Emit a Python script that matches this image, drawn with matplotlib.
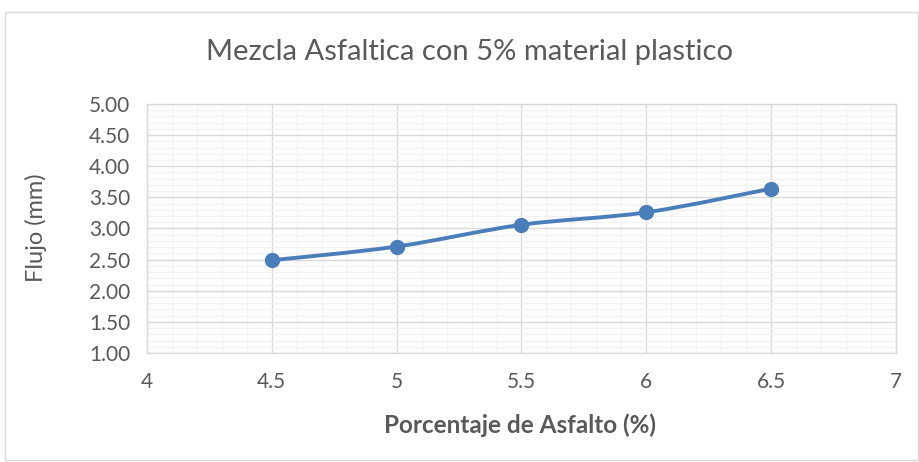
import matplotlib
matplotlib.use("Agg")
import matplotlib.pyplot as plt
from matplotlib.path import Path
from matplotlib.patches import PathPatch, Rectangle
from matplotlib.ticker import MultipleLocator
import numpy as np

# Data
asphalt_pct = [4.5, 5.0, 5.5, 6.0, 6.5]
flow_mm = [2.49, 2.71, 3.06, 3.26, 3.64]
x_ticks = [4, 4.5, 5, 5.5, 6, 6.5, 7]
x_tick_labels = ["4", "4.5", "5", "5.5", "6", "6.5", "7"]
y_ticks = [1.0, 1.5, 2.0, 2.5, 3.0, 3.5, 4.0, 4.5, 5.0]
y_tick_labels = [f"{v:.2f}" for v in y_ticks]

title = "Mezcla Asfaltica con 5% material plastico"
x_label = "Porcentaje de Asfalto (%)"
y_label = "Flujo (mm)"

LINE = "#4a7ebb"
TEXT = "#595959"
FONT = ["Lato", "DejaVu Sans"]

fig = plt.figure(figsize=(9.19, 4.62), dpi=100)
fig.patches.append(Rectangle((5 / 919, 2 / 462), 913 / 919, 448 / 462,
                             transform=fig.transFigure, fill=False,
                             edgecolor="#d9d9d9", linewidth=1.0))

ax = fig.add_axes([147 / 919, 109 / 462, 749 / 919, 249 / 462])
ax.set_xlim(4, 7)
ax.set_ylim(1, 5)

ax.set_xticks(x_ticks)
ax.set_xticklabels(x_tick_labels)
ax.set_yticks(y_ticks)
ax.set_yticklabels(y_tick_labels)
ax.xaxis.set_minor_locator(MultipleLocator(0.1))
ax.yaxis.set_minor_locator(MultipleLocator(0.1))

ax.grid(which="major", color="#d9d9d9", linewidth=1.0)
ax.grid(which="minor", color="#f2f2f2", linewidth=1.0)
ax.set_axisbelow(True)
ax.tick_params(which="both", length=0)
ax.tick_params(axis="x", pad=14, labelsize=15, labelcolor=TEXT)
ax.tick_params(axis="y", pad=12, labelsize=15, labelcolor=TEXT)
for lab in ax.get_xticklabels() + ax.get_yticklabels():
    lab.set_family(FONT)
for s in ax.spines.values():
    s.set_color("#d9d9d9")
    s.set_linewidth(1.0)

# Smoothed connecting line (Catmull-Rom segments as cubic Beziers)
xs = np.array(asphalt_pct)
ys = np.array(flow_mm)
px = np.concatenate([[xs[0]], xs, [xs[-1]]])
py = np.concatenate([[ys[0]], ys, [ys[-1]]])
verts = [(xs[0], ys[0])]
codes = [Path.MOVETO]
for i in range(1, len(px) - 2):
    c1 = (px[i] + (px[i + 1] - px[i - 1]) / 6, py[i] + (py[i + 1] - py[i - 1]) / 6)
    c2 = (px[i + 1] - (px[i + 2] - px[i]) / 6, py[i + 1] - (py[i + 2] - py[i]) / 6)
    verts += [c1, c2, (px[i + 1], py[i + 1])]
    codes += [Path.CURVE4] * 3
ax.add_patch(PathPatch(Path(verts, codes), fill=False, edgecolor=LINE,
                       linewidth=2.8, capstyle="round", joinstyle="round", zorder=3))
ax.plot(asphalt_pct, flow_mm, linestyle="none", marker="o", markersize=10,
        color=LINE, zorder=4)

fig.text(470 / 919, 1 - 52 / 462, title, ha="center", va="center",
         fontsize=21, color=TEXT, family=FONT)
fig.text(520 / 919, 1 - 425 / 462, x_label, ha="center", va="center",
         fontsize=17.5, fontweight="bold", color=TEXT, family=FONT)
fig.text(36 / 919, 1 - 228 / 462, y_label, ha="center", va="center",
         rotation=90, fontsize=17, color=TEXT, family=FONT)

fig.savefig("out.png", dpi=100)
